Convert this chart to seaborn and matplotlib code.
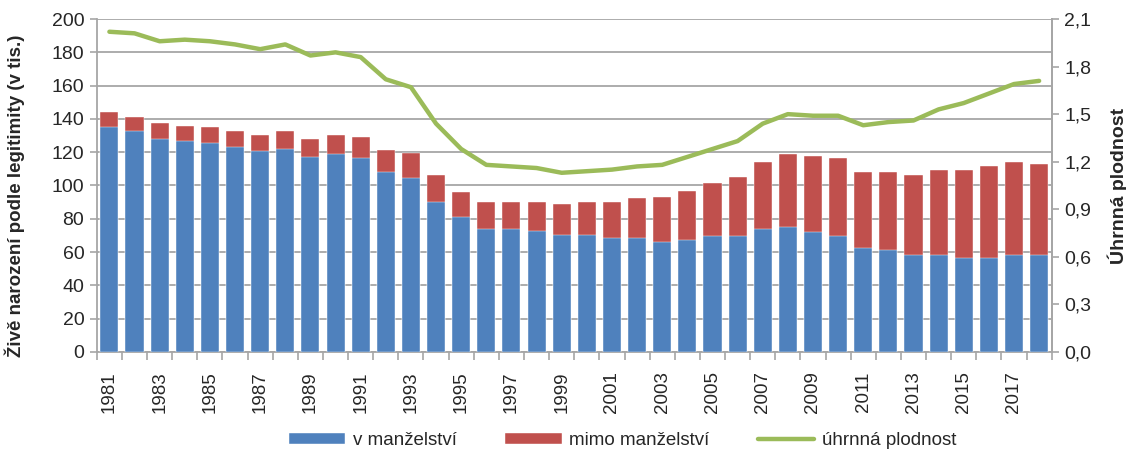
import numpy as np
import pandas as pd
import matplotlib
matplotlib.use("Agg")
import matplotlib.pyplot as plt
from matplotlib.ticker import FixedLocator, FuncFormatter
import seaborn as sns

years = list(range(1981, 2019))
# zive narozeni v tis. - v manzelstvi
v_manzelstvi = [135.0, 132.5, 127.9, 126.7, 125.5, 123.2, 120.8, 122.0, 117.4, 118.8,
                116.3, 108.0, 104.6, 89.8, 80.8, 73.9, 73.9, 72.7, 70.3, 70.3,
                68.2, 68.2, 65.8, 67.1, 69.4, 69.4, 73.9, 75.0, 71.8, 69.4,
                62.5, 61.3, 58.0, 58.0, 56.7, 56.7, 58.0, 58.0]
# celkem (v manzelstvi + mimo)
celkem = [144.2, 140.9, 137.3, 135.9, 134.9, 132.5, 130.3, 132.5, 128.0, 130.3,
          129.3, 121.1, 119.6, 106.0, 95.8, 90.0, 90.0, 90.0, 88.8, 90.0,
          90.0, 92.2, 93.2, 96.8, 101.6, 105.0, 114.0, 119.0, 117.6, 116.4,
          108.2, 108.2, 106.0, 109.4, 109.4, 111.8, 114.0, 112.8]
mimo_manzelstvi = [round(c - v, 1) for c, v in zip(celkem, v_manzelstvi)]
# uhrnna plodnost
plodnost = [2.02, 2.01, 1.96, 1.97, 1.96, 1.94, 1.91, 1.94, 1.87, 1.89,
            1.86, 1.72, 1.67, 1.44, 1.28, 1.18, 1.17, 1.16, 1.13, 1.14,
            1.15, 1.17, 1.18, 1.23, 1.28, 1.33, 1.44, 1.50, 1.49, 1.49,
            1.43, 1.45, 1.46, 1.53, 1.57, 1.63, 1.69, 1.71]

df = pd.DataFrame({"rok": [str(y) for y in years],
                   "v_manzelstvi": v_manzelstvi,
                   "mimo": mimo_manzelstvi,
                   "plodnost": plodnost})
df["celkem"] = df["v_manzelstvi"] + df["mimo"]

sns.set_style("white")
plt.rcParams["font.family"] = ["Liberation Sans", "DejaVu Sans"]

BLUE = "#4F81BD"
RED = "#C0504D"
GREEN = "#9BBB59"
GRID = "#A6A6A6"

fig = plt.figure(figsize=(11.26, 4.54), dpi=100)
ax = fig.add_axes([0.086, 0.225, 0.848, 0.733])

sns.barplot(data=df, x="rok", y="celkem", color=RED, width=0.72,
            saturation=1, ax=ax, label="mimo manželství", zorder=2)
sns.barplot(data=df, x="rok", y="v_manzelstvi", color=BLUE, width=0.72,
            saturation=1, ax=ax, label="v manželství", zorder=3)
for p in ax.patches:
    p.set_edgecolor("white")
    p.set_linewidth(0.3)

ax.set_ylim(0, 200)
ax.set_xlim(-0.5, len(years) - 0.5)
ax.set_yticks(range(0, 201, 20))
ax.yaxis.grid(True, color=GRID, linewidth=1.3, zorder=0)
ax.set_axisbelow(True)
ax.tick_params(axis="y", labelsize=14, length=5, color=GRID, width=1.2,
               direction="out", left=True, pad=4)

pos = np.arange(len(years))
ax.xaxis.set_major_locator(FixedLocator(pos[::2]))
ax.set_xticklabels([str(y) for y in years[::2]], rotation=90, fontsize=13.5)
ax.xaxis.set_minor_locator(FixedLocator(np.arange(-0.5, len(years), 1)))
ax.tick_params(axis="x", which="major", length=0, pad=14)
ax.tick_params(axis="x", which="minor", length=6, color=GRID, width=1.2,
               direction="out", bottom=True)
ax.set_xlabel("")
ax.set_ylabel("Živě narození podle legitimity (v tis.)", fontsize=13.5,
              fontweight="bold")
ax.yaxis.set_label_coords(-0.075, 0.47)

ax.spines["top"].set_visible(False)
for side in ["left", "bottom", "right"]:
    ax.spines[side].set_color(GRID)
    ax.spines[side].set_linewidth(1.3)

ax2 = ax.twinx()
sns.lineplot(x=pos, y=df["plodnost"], color=GREEN, linewidth=3.2, ax=ax2,
             label="úhrnná plodnost", zorder=4)
ax2.set_ylim(0, 2.1)
ax2.set_yticks(np.arange(0, 2.11, 0.3))
ax2.yaxis.set_major_formatter(FuncFormatter(lambda v, _: f"{v:.1f}".replace(".", ",")))
ax2.tick_params(axis="y", labelsize=14, length=5, color=GRID, width=1.2,
                direction="out", right=True, pad=4)
ax2.set_ylabel("Úhrnná plodnost", fontsize=14, fontweight="bold")
ax2.yaxis.set_label_coords(1.058, 0.5)
for side in ["top", "left", "bottom"]:
    ax2.spines[side].set_visible(False)
ax2.spines["right"].set_color(GRID)
ax2.spines["right"].set_linewidth(1.3)

h1, l1 = ax.get_legend_handles_labels()
h2, l2 = ax2.get_legend_handles_labels()
handles = {l: h for h, l in zip(h1 + h2, l1 + l2)}
order = ["v manželství", "mimo manželství", "úhrnná plodnost"]
if ax.get_legend():
    ax.get_legend().remove()
if ax2.get_legend():
    ax2.get_legend().remove()
fig.legend([handles[o] for o in order], order, loc="center",
           bbox_to_anchor=(0.553, 0.03), ncol=3, frameon=False, fontsize=13.5,
           handlelength=3.0, handleheight=0.55, columnspacing=2.6,
           handletextpad=0.4)

plt.savefig("out.png", dpi=100)
plt.close()
